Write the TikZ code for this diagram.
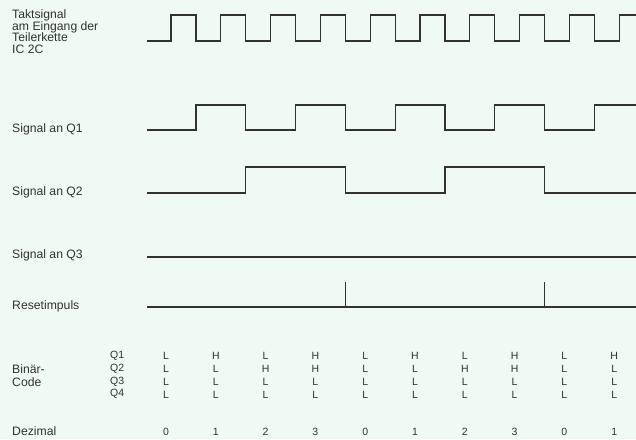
\documentclass[tikz,border=0pt]{standalone}
\usepackage{fontspec}
\setmainfont{Liberation Sans}
\usepackage{tikz}
\definecolor{papier}{RGB}{238,250,243}
\definecolor{tinte}{RGB}{50,50,50}

\begin{document}
\begin{tikzpicture}[x=1pt,y=-1pt,
  signal/.style={draw=tinte,line width=1.25pt,line join=miter},
  beschr/.style={anchor=base west,inner sep=0pt,text=tinte,font=\fontsize{12.2}{11.7}\selectfont},
  bit/.style={anchor=base,inner sep=0pt,text=tinte,font=\fontsize{10.5}{12}\selectfont}]
\fill[papier] (0,0) rectangle (636,439);
\useasboundingbox (0,0) rectangle (636,439);

\node[beschr,anchor=north west,align=left] (takt) at (12,9.3) {Taktsignal\\am Eingang der\\Teilerkette\\IC 2C};
\node[beschr] (q1sig) at (12,132) {Signal an Q1};
\node[beschr] (q2sig) at (12,195.3) {Signal an Q2};
\node[beschr] (q3sig) at (12,258.3) {Signal an Q3};
\node[beschr] (reset) at (12,309.3) {Resetimpuls};
\node[beschr,anchor=north west,align=left,font=\fontsize{12.2}{13.3}\selectfont] (binaer) at (12,364.3) {Binär-\\Code};
\node[beschr] (dezimal) at (12,435.5) {Dezimal};

\draw[signal] (147,41) \foreach \k in {0,...,8}{ -- ({171+49.8*\k},41) -- ({171+49.8*\k},15) -- ({196+49.8*\k},15) -- ({196+49.8*\k},41)} -- (619.2,41) -- (619.2,15) -- (636,15);
\draw[signal] (147,130) \foreach \k in {0,2,4,6}{ -- ({196+49.8*\k},130) -- ({196+49.8*\k},105) -- ({245.8+49.8*\k},105) -- ({245.8+49.8*\k},130)} -- (594.4,130) -- (594.4,105) -- (636,105);
\draw[signal] (147,193) \foreach \k in {1,5}{ -- ({196+49.8*\k},193) -- ({196+49.8*\k},167) -- ({295.6+49.8*\k},167) -- ({295.6+49.8*\k},193)} -- (636,193);
\draw[signal] (147,257) -- (636,257);
\draw[signal] (147,307) -- (636,307);
\foreach \k in {3,7}
  \draw[signal] ({196+49.8*\k},307) -- ({196+49.8*\k},282);

\foreach \i/\y in {1/358.3,2/371,3/384,4/396.7}
  \node[beschr,font=\fontsize{10.5}{12}\selectfont] (q\i) at (110,\y) {Q\i};

\foreach \k in {0,...,9}{
  \pgfmathtruncatemacro{\z}{mod(\k,4)}
  \pgfmathsetmacro{\x}{166+49.8*\k}
  \ifodd\z \def\qa{H}\else \def\qa{L}\fi
  \ifnum\z>1 \def\qb{H}\else \def\qb{L}\fi
  \node[bit] (qa\k) at (\x,359) {\qa};
  \node[bit] (qb\k) at (\x,372) {\qb};
  \node[bit] (qc\k) at (\x,385) {L};
  \node[bit] (qd\k) at (\x,398) {L};
  \node[bit] (dez\k) at (\x,435.5) {\z};
}
\end{tikzpicture}
\end{document}
